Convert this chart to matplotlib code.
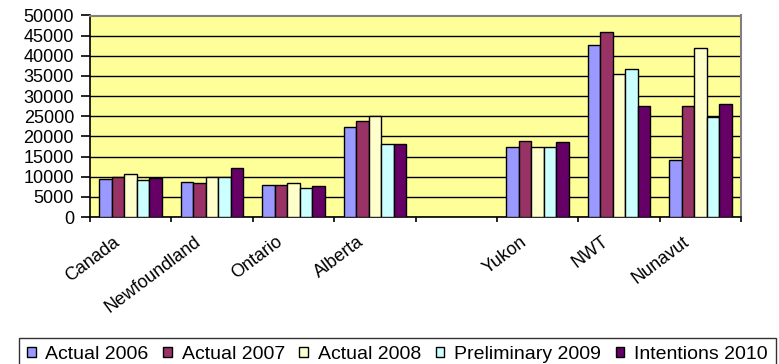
import numpy as np
from matplotlib import pyplot as plt
from matplotlib.transforms import ScaledTranslation

plt.rcParams['font.family'] = ['Liberation Sans', 'DejaVu Sans']

# Data
categories = ['Canada', 'Newfoundland', 'Ontario', 'Alberta', '', 'Yukon', 'NWT', 'Nunavut']
nan = np.nan
actual_2006 = [9500, 8800, 8000, 22400, nan, 17400, 42800, 14100]
actual_2007 = [9900, 8400, 8000, 23900, nan, 18900, 45800, 27600]
actual_2008 = [10700, 9900, 8400, 25100, nan, 17400, 35600, 42000]
prelim_2009 = [9100, 9900, 7300, 18100, nan, 17400, 36700, 24700]
intent_2010 = [9600, 12200, 7600, 18100, nan, 18500, 27600, 28000]
series_names = ['Actual 2006', 'Actual 2007', 'Actual 2008', 'Preliminary 2009', 'Intentions 2010']
yticks = [0, 5000, 10000, 15000, 20000, 25000, 30000, 35000, 40000, 45000, 50000]

series = [actual_2006, actual_2007, actual_2008, prelim_2009, intent_2010]
colors = ['#9999FF', '#993366', '#FFFFCC', '#CCFFFF', '#660066']

fig = plt.figure(figsize=(7.79, 3.64), dpi=100)
ax = fig.add_axes([90/779, 1 - 217/364, 651/779, 201.5/364])
ax.set_facecolor('#FFFF99')

x = np.arange(len(categories))
width = 1 / 6.5
for i, (vals, name, col) in enumerate(zip(series, series_names, colors)):
    ax.bar(x + (i - 2) * width, np.array(vals, dtype=float), width,
           color=col, edgecolor='black', linewidth=1, label=name, zorder=3)

ax.set_xlim(-0.5, len(categories) - 0.5)
ax.set_ylim(0, 50000)
ax.set_yticks(yticks)
ax.set_yticklabels([str(v) for v in yticks], fontsize=13)
ax.yaxis.grid(True, color='black', linewidth=1)
ax.set_axisbelow(True)

# category labels between boundary tick marks
ax.set_xticks(x)
ax.set_xticklabels(categories, rotation=37, ha='right', rotation_mode='anchor', fontsize=13)
ax.tick_params(axis='x', length=0, pad=6)
shift = ScaledTranslation(-18/100, -8/100, fig.dpi_scale_trans)
for lbl in ax.get_xticklabels():
    lbl.set_transform(lbl.get_transform() + shift)
ax.set_xticks(np.arange(len(categories) + 1) - 0.5, minor=True)
ax.tick_params(axis='x', which='minor', length=3.6, width=1.2, direction='out')
ax.tick_params(axis='y', length=6.5, width=1.2, direction='out', pad=5)

ax.spines['left'].set_linewidth(1.2)
ax.spines['bottom'].set_linewidth(1.2)
ax.spines['top'].set_color('#808080')
ax.spines['right'].set_color('#808080')
ax.spines['top'].set_linewidth(1.5)
ax.spines['right'].set_linewidth(1.5)

leg = fig.legend(loc='upper left', bbox_to_anchor=(19/779, 1 - 338/364), ncol=5,
                 fontsize=14, frameon=True, fancybox=False, edgecolor='black',
                 handlelength=0.45, handleheight=0.45, handletextpad=0.5,
                 columnspacing=0.75, borderpad=0.4, borderaxespad=0)
leg.get_frame().set_linewidth(1)
for h in leg.legend_handles:
    h.set_linewidth(1)

fig.savefig('out.png', dpi=100)
